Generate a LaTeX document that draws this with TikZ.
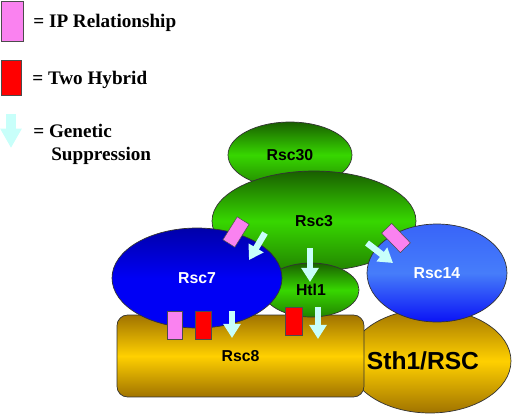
\documentclass[tikz,border=0pt]{standalone}
\usepackage{fontspec}
\setmainfont{Liberation Serif}
\newfontfamily\arialfont{Liberation Sans}
\usetikzlibrary{shapes.geometric,arrows.meta,positioning}

\definecolor{ipcol}{RGB}{250,130,240}
\definecolor{yhcol}{RGB}{255,0,0}
\definecolor{suppcol}{RGB}{200,255,250}
\definecolor{grn}{RGB}{55,215,0}
\definecolor{dkgrn}{RGB}{25,95,0}
\definecolor{blu}{RGB}{0,0,245}
\definecolor{dkblu}{RGB}{0,0,170}
\definecolor{ltblu}{RGB}{70,125,250}
\definecolor{gld}{RGB}{255,208,0}
\definecolor{dkgld}{RGB}{160,115,0}

\begin{document}
\begin{tikzpicture}[
    x=0.02cm, y=-0.02cm,
    prot/.style={ellipse, draw=black!80, line width=0.4pt, inner sep=0pt,
        font=\arialfont\bfseries\fontsize{9}{10}\selectfont},
    green/.style={prot, top color=dkgrn, bottom color=dkgrn!70!grn, middle color=grn},
    blue/.style={prot, top color=dkblu, bottom color=blu, middle color=blu, text=white},
    lblue/.style={prot, top color=ltblu!80!blu, bottom color=blu!85!ltblu, middle color=ltblu, text=white},
    gold/.style={top color=dkgld, bottom color=dkgld, middle color=gld, draw=black!80, line width=0.4pt},
    ip/.style={rectangle, draw=black!70, line width=0.3pt, fill=ipcol, inner sep=0pt},
    yh/.style={rectangle, draw=black!70, line width=0.3pt, fill=yhcol, inner sep=0pt},
    supp/.style={draw=suppcol, line width=3.6pt, -{Triangle[width=9.5pt,length=8pt]}},
    legend/.style={anchor=base west, inner sep=0pt, font=\bfseries\fontsize{10.9}{13}\selectfont}
]
\useasboundingbox (0,0) rectangle (512,414);

% Legend
\node[ip, minimum width=0.44cm, minimum height=0.8cm] (legip) at (12,21) {};
\node[yh, minimum width=0.4cm, minimum height=0.7cm] (legyh) at (11,77.5) {};
\draw[draw=suppcol, line width=5.2pt, -{Triangle[width=11.5pt,length=11pt]}] (11,114) -- (11,148);
\node[legend] (iptext) at (33,27) {= IP Relationship};
\node[legend] (yhtext) at (32,84) {= Two Hybrid};
\node[legend] (gentext) at (33,137) {= Genetic};
\node[legend] (suptext) at (51,160) {Suppression};

% Complex
\node[green, minimum width=2.48cm, minimum height=1.32cm] (rsc30) at (290,155) {Rsc30};
\node[green, minimum width=4.08cm, minimum height=2.0cm] (rsc3) at (314,221) {Rsc3};
\node[ellipse, gold, minimum width=3.24cm, minimum height=2.08cm,
    label={[xshift=-4pt, font=\arialfont\bfseries\fontsize{14}{16}\selectfont]center:Sth1/RSC}] (sth1) at (430,361) {};
\node[gold, rectangle, rounded corners=6pt, minimum width=4.94cm, minimum height=1.64cm,
    font=\arialfont\bfseries\fontsize{9}{10}\selectfont] (rsc8) at (240.5,356) {Rsc8};
\node[green, minimum width=1.92cm, minimum height=1.08cm] (htl1) at (311,290) {Htl1};
\node[blue, minimum width=3.4cm, minimum height=2.0cm] (rsc7) at (197,278) {Rsc7};
\node[lblue, minimum width=2.8cm, minimum height=1.96cm] (rsc14) at (437,273) {Rsc14};

% IP relationships
\node[ip, minimum width=0.28cm, minimum height=0.54cm, rotate=-32] (ip37) at (236,232) {};
\node[ip, minimum width=0.28cm, minimum height=0.54cm, rotate=44] (ip314) at (396,238) {};
\node[ip, minimum width=0.3cm, minimum height=0.56cm] (ip78) at (174.5,325) {};

% Two hybrid
\node[yh, minimum width=0.32cm, minimum height=0.56cm] (yh78) at (203,325) {};
\node[yh, minimum width=0.34cm, minimum height=0.56cm] (yh18) at (293.5,321) {};

% Genetic suppression
\draw[supp] (265,233) -- (249,260);
\draw[supp] (310,248) -- (310,282);
\draw[supp] (367,243) -- (393,263);
\draw[supp] (232,311) -- (232,338);
\draw[supp] (318,307) -- (318,339);

\end{tikzpicture}
\end{document}
